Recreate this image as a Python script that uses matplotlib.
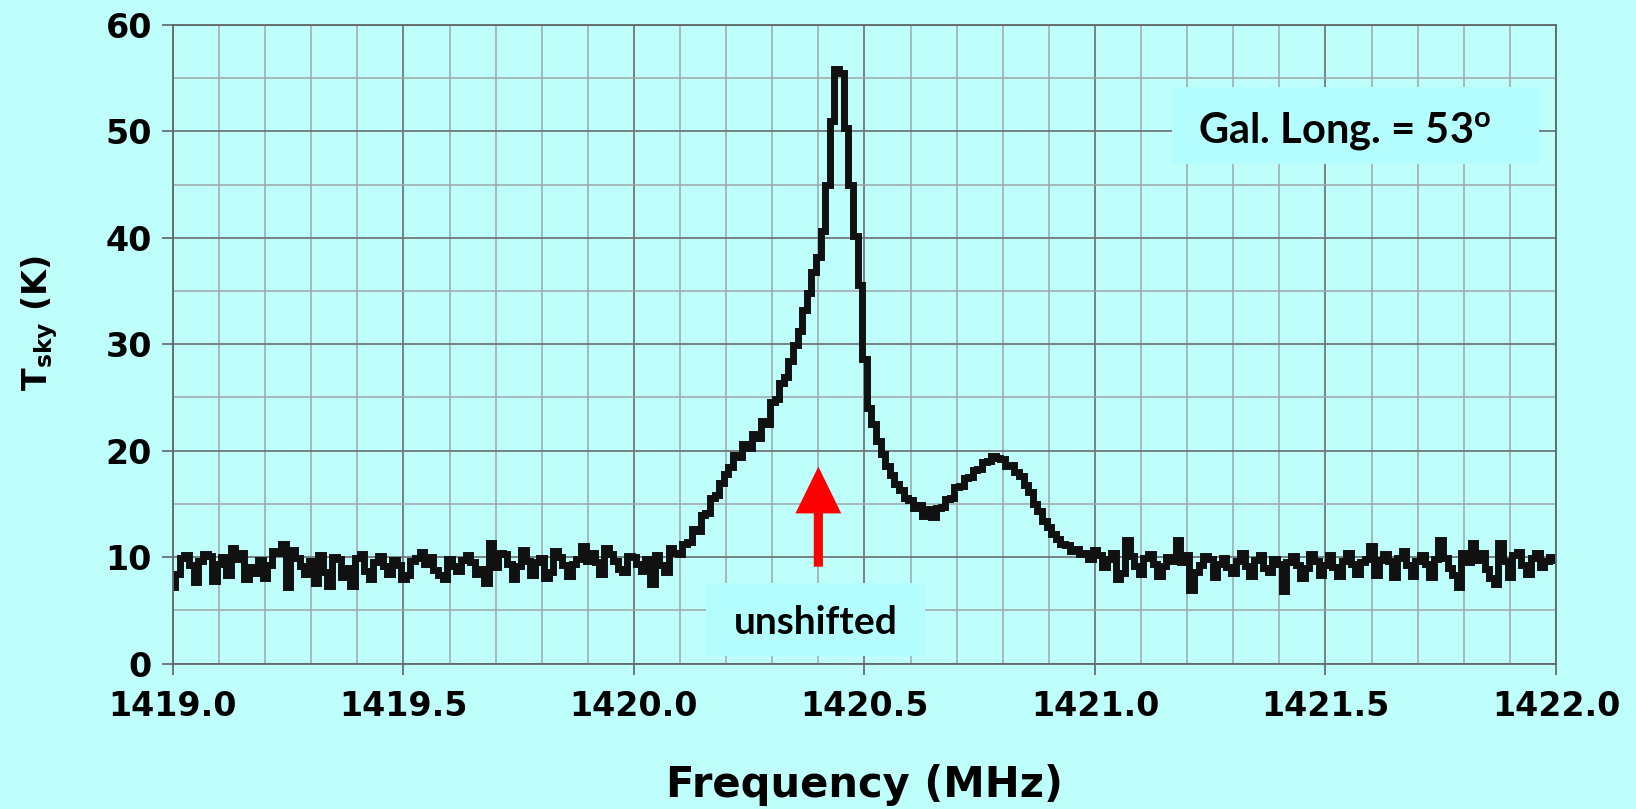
import matplotlib.pyplot as plt
import numpy as np
from matplotlib.ticker import MultipleLocator
from matplotlib.patches import Rectangle

# sky temperature (K), one value per 10 kHz, 1419.00 .. 1422.00 MHz
tsky = [
    7.2, 8.4, 9.9, 10.2, 9.3, 7.7, 9.6, 10.3, 10.1, 7.8,
    9.4, 10.0, 8.3, 10.9, 9.8, 10.4, 7.9, 9.1, 8.5, 9.7,
    8.0, 9.3, 10.6, 10.4, 11.2, 7.2, 10.7, 9.9, 9.2, 8.4,
    9.6, 7.6, 10.2, 8.6, 7.3, 10.0, 9.8, 8.1, 9.0, 7.3,
    9.9, 10.3, 8.7, 7.9, 9.5, 10.1, 9.2, 8.4, 9.7, 9.3,
    7.9, 8.3, 9.6, 9.9, 10.5, 9.4, 10.0, 8.8, 8.3, 7.9,
    9.8, 9.2, 8.7, 9.7, 10.2, 9.5, 8.4, 8.9, 7.6, 11.3,
    9.1, 10.4, 10.3, 9.4, 7.9, 9.2, 10.7, 9.6, 8.3, 9.5,
    9.9, 8.0, 8.6, 10.6, 10.0, 9.3, 8.2, 9.4, 9.8, 11.0,
    9.6, 10.4, 9.5, 8.4, 10.9, 10.3, 9.6, 8.9, 8.6, 10.1,
    10.0, 9.4, 8.7, 9.8, 7.5, 10.2, 9.3, 8.6, 10.9, 10.4,
    10.3, 11.2, 11.4, 12.6, 12.5, 14.0, 14.1, 15.6, 15.8, 17.0,
    17.8, 18.5, 19.6, 19.4, 20.6, 20.3, 21.6, 21.2, 22.8, 22.5,
    24.6, 24.9, 26.4, 26.9, 28.4, 29.9, 31.2, 33.2, 34.8, 36.8,
    38.2, 40.6, 45.0, 51.0, 55.9, 55.5, 50.3, 45.0, 40.2, 35.6,
    28.6, 24.0, 22.5, 20.9, 19.7, 18.6, 17.7, 16.9, 16.3, 15.6,
    15.4, 14.6, 14.9, 13.9, 14.5, 13.8, 14.6, 14.7, 15.5, 15.6,
    16.6, 16.7, 17.4, 17.5, 18.2, 18.3, 18.9, 19.0, 19.5, 19.3,
    19.2, 18.6, 18.7, 18.0, 17.6, 16.8, 16.1, 15.0, 14.3, 13.4,
    12.8, 12.2, 11.7, 11.2, 11.1, 10.6, 10.8, 10.3, 10.4, 9.8,
    10.7, 10.2, 9.1, 9.8, 10.4, 7.9, 8.5, 11.6, 10.1, 9.2,
    8.4, 9.9, 10.3, 9.4, 8.2, 9.2, 10.0, 9.6, 11.6, 9.5,
    10.2, 6.9, 8.6, 9.3, 10.1, 9.8, 8.1, 9.4, 9.9, 9.1,
    8.5, 9.6, 10.4, 9.2, 8.2, 9.7, 10.2, 9.0, 8.6, 9.8,
    9.4, 6.8, 9.5, 10.1, 9.3, 8.0, 9.0, 10.3, 9.6, 8.3,
    9.3, 10.2, 9.1, 8.2, 9.6, 10.4, 9.4, 8.4, 9.5, 9.8,
    11.0, 8.3, 9.7, 10.3, 9.6, 8.1, 9.9, 10.6, 9.3, 8.2,
    9.6, 10.2, 9.4, 8.1, 9.8, 11.6, 9.9, 9.0, 8.3, 7.2,
    10.4, 9.5, 11.3, 9.7, 10.4, 8.9, 8.0, 7.5, 11.3, 9.6,
    8.1, 10.2, 10.5, 9.3, 8.4, 9.9, 10.4, 9.1, 9.6, 10.0,
    9.7,
]
freq = np.linspace(1419.0, 1422.0, len(tsky))

xticks = [1419.0, 1419.5, 1420.0, 1420.5, 1421.0, 1421.5, 1422.0]
yticks = [0, 10, 20, 30, 40, 50, 60]
gal_long = 53
arrow_freq = 1420.4
arrow_from, arrow_to = 9.1, 18.5

BG = '#BEFFFC'
BOX = '#B3FDFF'

plt.rcParams['font.family'] = 'DejaVu Sans'
plt.rcParams['mathtext.fontset'] = 'custom'
plt.rcParams['mathtext.rm'] = 'DejaVu Sans'
plt.rcParams['mathtext.bf'] = 'DejaVu Sans:bold'
plt.rcParams['mathtext.sf'] = 'Lato:bold'

fig = plt.figure(figsize=(16.36, 8.09), dpi=100, facecolor=BG)
ax = fig.add_axes([0.1057, 0.1798, 0.8454, 0.7893], facecolor=BG)

ax.plot(freq, tsky, color='#111111', lw=5.0, drawstyle='steps-mid',
        solid_joinstyle='miter', zorder=2)

ax.set_xlim(1419.0, 1422.0)
ax.set_ylim(0, 60)
ax.set_xticks(xticks)
ax.set_xticklabels(['%.1f' % t for t in xticks])
ax.set_yticks(yticks)
ax.xaxis.set_minor_locator(MultipleLocator(0.1))
ax.yaxis.set_minor_locator(MultipleLocator(5))
ax.set_axisbelow(True)
ax.grid(which='major', color='#707878', lw=1.3)
ax.grid(which='minor', color='#9ea6a6', lw=1.1)
ax.tick_params(which='major', length=8, width=1.1, color='#555555', pad=7,
               labelsize=24)
ax.tick_params(axis='x', pad=11)
ax.tick_params(which='minor', length=0)
for lab in ax.get_xticklabels() + ax.get_yticklabels():
    lab.set_fontweight('bold')
for s in ax.spines.values():
    s.set_color('#606868')
    s.set_linewidth(1.3)

ax.set_xlabel('Frequency (MHz)', fontsize=30, fontweight='bold')
ax.xaxis.set_label_coords(0.5, -0.158)
ax.set_ylabel(r'$\mathbf{T}_{\mathbf{sky}}$ (K)', fontsize=24, fontweight='bold')
ax.yaxis.set_label_coords(-0.0813, 0.5325)

# label boxes
ax.add_patch(Rectangle((0.7224, 0.7823), 0.2653, 0.1206, transform=ax.transAxes,
                       facecolor=BOX, edgecolor='none', zorder=3))
ax.text(0.8474, 0.8152, 'Gal. Long. = %d$^{\\mathsf{o}}$' % gal_long,
        transform=ax.transAxes, ha='center', va='baseline', fontsize=30,
        family='Lato', fontweight='bold', zorder=4)

ax.add_patch(Rectangle((0.3854, 0.0117), 0.1584, 0.1144, transform=ax.transAxes,
                       facecolor=BOX, edgecolor='none', zorder=3))
ax.text(0.4646, 0.0462, 'unshifted', transform=ax.transAxes, ha='center',
        va='baseline', fontsize=28, family='Lato', fontweight='bold', zorder=4)

ax.annotate('', xy=(arrow_freq, arrow_to), xytext=(arrow_freq, arrow_from),
            arrowprops=dict(arrowstyle='simple,head_length=0.51,head_width=0.5,tail_width=0.1',
                            mutation_scale=66, color='red', lw=0,
                            shrinkA=0, shrinkB=0),
            zorder=5)

fig.savefig('out.png', dpi=100, facecolor=BG)
